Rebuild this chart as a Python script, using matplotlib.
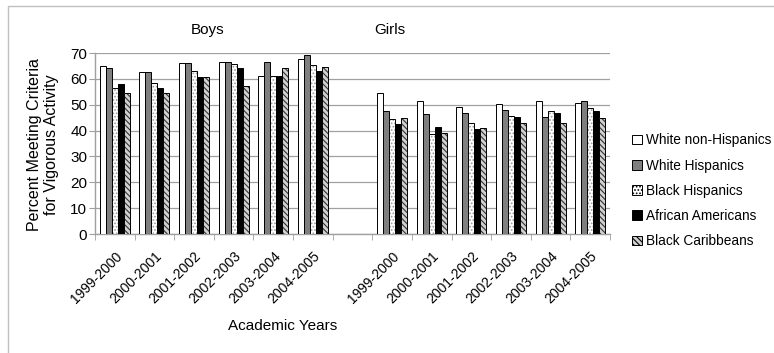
import matplotlib
matplotlib.use("Agg")
import matplotlib.pyplot as plt
import matplotlib.patches as mpatches
import numpy as np

plt.rcParams['font.family'] = ['Liberation Sans', 'DejaVu Sans']
plt.rcParams['hatch.linewidth'] = 0.8

years = ["1999-2000", "2000-2001", "2001-2002", "2002-2003", "2003-2004", "2004-2005"]
series = ["White non-Hispanics", "White Hispanics", "Black Hispanics",
          "African Americans", "Black Caribbeans"]

boys_white_nh = [64.8, 62.6, 66.3, 66.7, 61.0, 67.8]
boys_white_h = [64.2, 62.6, 66.3, 66.7, 66.7, 69.4]
boys_black_h = [56.3, 58.5, 63.0, 65.8, 61.0, 65.4]
boys_afr_am = [58.1, 56.3, 60.7, 64.2, 61.0, 63.0]
boys_black_c = [54.7, 54.7, 60.7, 57.3, 64.2, 64.6]

girls_white_nh = [54.4, 51.3, 49.0, 50.3, 51.3, 50.6]
girls_white_h = [47.4, 46.4, 46.7, 48.1, 45.1, 51.3]
girls_black_h = [44.5, 38.5, 42.9, 45.6, 47.4, 48.7]
girls_afr_am = [42.6, 41.5, 40.6, 45.1, 46.8, 47.7]
girls_black_c = [44.9, 39.0, 41.0, 42.9, 42.9, 44.7]

boys = [boys_white_nh, boys_white_h, boys_black_h, boys_afr_am, boys_black_c]
girls = [girls_white_nh, girls_white_h, girls_black_h, girls_afr_am, girls_black_c]

W, H = 774, 353
fig = plt.figure(figsize=(W / 100, H / 100), dpi=100)
ax = fig.add_axes([95 / W, 1 - 234 / H, 515 / W, (234 - 53) / H])

styles = [
    dict(face='white', hatch=None, hc=None),
    dict(face='#7f7f7f', hatch=None, hc=None),
    dict(face='white', hatch='.....', hc='#9a9a9a'),
    dict(face='black', hatch=None, hc=None),
    dict(face='#d0d0d0', hatch='\\\\\\\\\\\\', hc='#333333'),
]

n = len(series)
bw = 0.152
boys_x = np.arange(6)
girls_x = np.arange(6) + 7

for i in range(n):
    st = styles[i]
    off = (i - (n - 1) / 2) * bw
    for xs, vals in ((boys_x, boys[i]), (girls_x, girls[i])):
        if st['hatch']:
            ax.bar(xs + off, vals, bw, color=st['face'], edgecolor=st['hc'],
                   hatch=st['hatch'], linewidth=0, zorder=3)
            ax.bar(xs + off, vals, bw, fill=False, edgecolor='black',
                   linewidth=0.7, zorder=4)
        else:
            ax.bar(xs + off, vals, bw, color=st['face'], edgecolor='black',
                   linewidth=0.7, zorder=3)

ax.set_xlim(-0.5, 12.5)
ax.set_ylim(0, 70)
ax.set_yticks(range(0, 71, 10))
ax.yaxis.grid(True, color='#a0a0a0', linewidth=0.9, zorder=0)
ax.set_axisbelow(True)

ticks = list(boys_x) + list(girls_x)
ax.set_xticks(ticks)
ax.set_xticklabels(years + years, rotation=45, ha='right', rotation_mode='anchor',
                   fontsize=10)
ax.set_xticks(np.arange(-0.5, 13, 1.0), minor=True)
ax.tick_params(axis='x', which='major', length=0, pad=11)
ax.tick_params(axis='x', which='minor', length=4, color='#a0a0a0')
ax.tick_params(axis='y', labelsize=11, length=4, color='#a0a0a0', pad=1.5)

for s in ['top', 'right']:
    ax.spines[s].set_visible(False)
for s in ['left', 'bottom']:
    ax.spines[s].set_color('#a0a0a0')
    ax.spines[s].set_linewidth(1.0)

fig.text(208 / W, 1 - 30 / H, "Boys", ha='center', va='center', fontsize=11)
fig.text(390 / W, 1 - 30 / H, "Girls", ha='center', va='center', fontsize=11)
fig.text(283 / W, 1 - 326 / H, "Academic Years", ha='center', va='center', fontsize=11)
fig.text(43 / W, 1 - 145 / H, "Percent Meeting Criteria\nfor Vigorous Activity",
         ha='center', va='center', rotation=90, fontsize=11.5, linespacing=1.2)

handles = []
for i in range(n):
    st = styles[i]
    handles.append(mpatches.Patch(facecolor=st['face'], edgecolor='black',
                                  hatch=st['hatch'], linewidth=0.7, label=series[i]))
leg = fig.legend(handles=handles, loc='upper left',
                 bbox_to_anchor=(627 / W, 1 - 128 / H), frameon=False,
                 fontsize=9.8, labelspacing=0.82, handlelength=0.7,
                 handleheight=0.7, handletextpad=0.3, borderaxespad=0)

border = mpatches.Rectangle((8 / W, -0.05), 1.1, 1 - 6 / H + 0.05,
                            transform=fig.transFigure, fill=False,
                            edgecolor='#c0c0c0', linewidth=1.0)
fig.patches.append(border)

fig.savefig("out.png", dpi=100)
